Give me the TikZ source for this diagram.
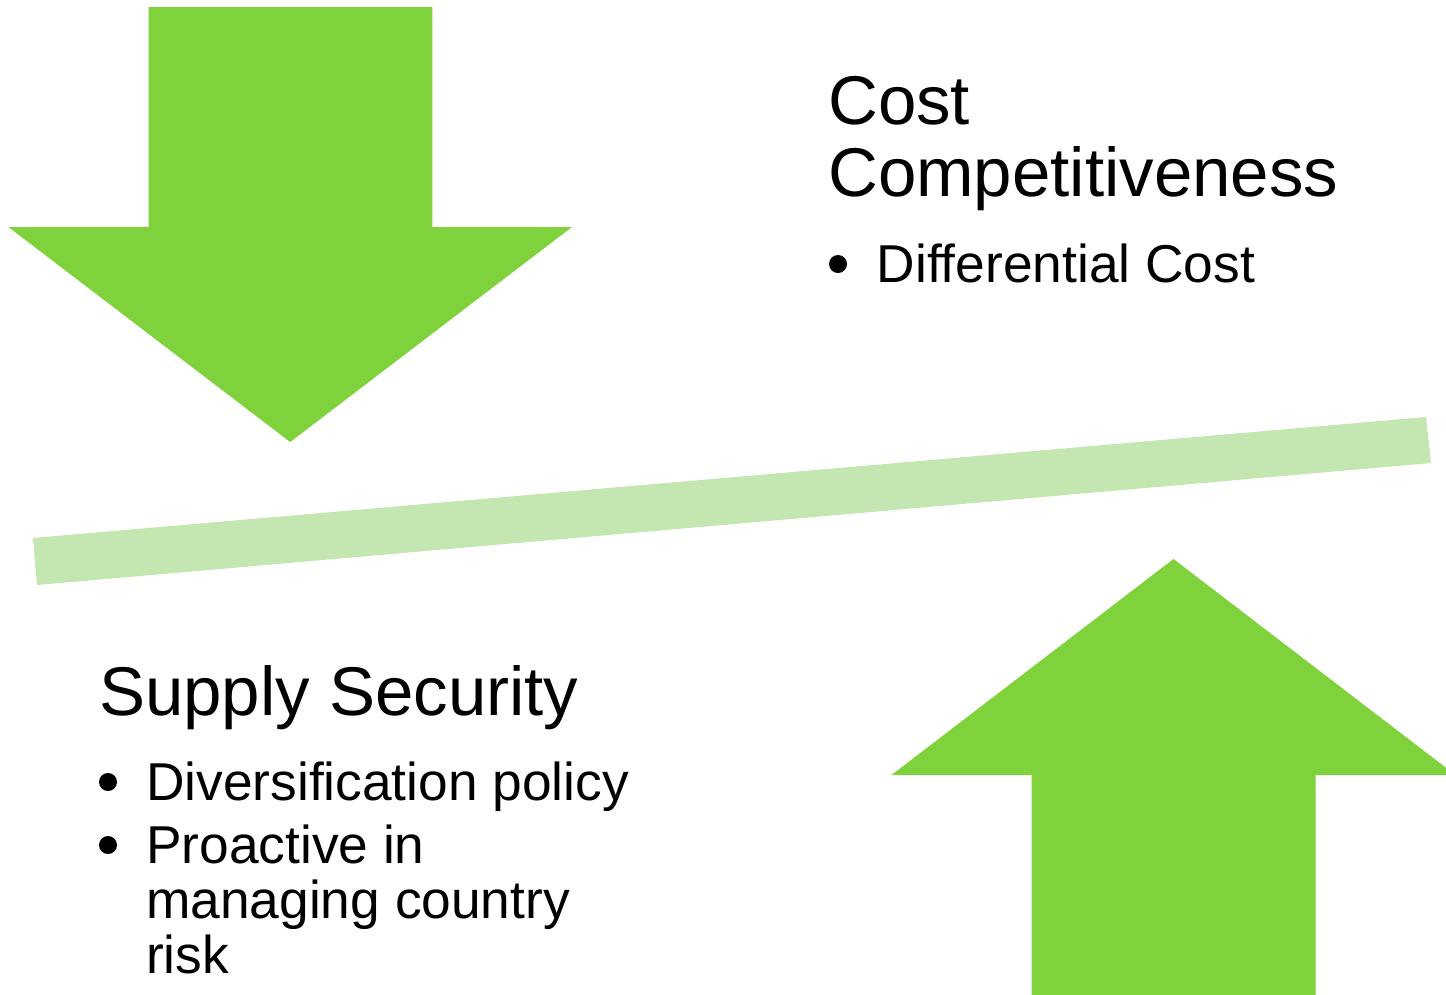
\documentclass[tikz,border=0pt]{standalone}
\usepackage{fontspec}
\setmainfont[Ligatures=NoCommon]{Liberation Sans}
\definecolor{arrowgreen}{RGB}{127,210,60}
\definecolor{bargreen}{RGB}{196,230,176}
\begin{document}
\begin{tikzpicture}[x=1pt,y=-1pt,
  heading/.style={anchor=base west,inner sep=0pt,align=left,
    font=\fontsize{69}{72}\selectfont},
  itemtext/.style={anchor=base west,inner sep=0pt,align=left,
    font=\fontsize{53.3}{55}\selectfont},
  dot/.style={fill=black},
  bigarrow/.style={fill=arrowgreen}]
\useasboundingbox (0,0) rectangle (1446,994);
\clip (0,0) rectangle (1446,994);

% downward arrow, top left
\fill[bigarrow] (148.5,7) -- (432.4,7) -- (432.4,227) -- (572,227)
  -- (290.2,442) -- (8.4,227) -- (148.5,227) -- cycle;

% upward arrow, bottom right
\fill[bigarrow] (1031.6,1000) -- (1031.6,775) -- (891.5,775)
  -- (1173.5,559) -- (1455.5,775) -- (1315.7,775) -- (1315.7,1000) -- cycle;

% tilted balance bar
\fill[bargreen] (33,538) -- (1426,417) -- (1431,463) -- (37,585) -- cycle;

% cost side (multi-line nodes sit on the baseline of their last line)
\node[heading] (cost) at (828,196.7) {Cost\\Competitiveness};
\fill[dot] (838,264) circle (9);
\node[itemtext] (diffcost) at (876.5,282) {Differential Cost};

% supply side
\node[heading] (supply) at (99,715) {Supply Security};
\fill[dot] (108,782) circle (9);
\node[itemtext] (divers) at (146,800) {Diversification policy};
\fill[dot] (108,845) circle (9);
\node[itemtext] (proactive) at (146,973) {Proactive in\\managing country\\risk};
\end{tikzpicture}
\end{document}
